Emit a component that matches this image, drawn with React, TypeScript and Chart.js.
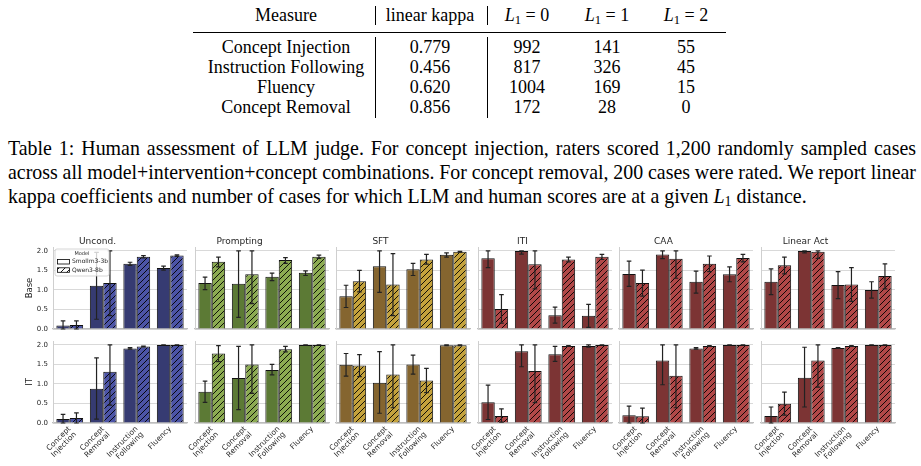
import React, { useEffect, useLayoutEffect, useRef } from "react";
import { Chart, registerables } from "chart.js";

Chart.register(...registerables);

// ---------------- data ----------------
const categories = [["Concept", "Injection"], ["Concept", "Removal"], ["Instruction", "Following"], ["Fluency"]];
const panelTitles = ["Uncond.", "Prompting", "SFT", "ITI", "CAA", "Linear Act"];
const rowLabels = ["Base", "IT"];
const modelNames = ["Smollm3-3b", "Qwen3-8b"];
const legendTitle = "Model";
const yTickValues = [0, 0.5, 1, 1.5, 2];

// Uncond.
const uncondBaseSmol = [0.09, 1.11, 1.67, 1.56];
const uncondBaseSmolErr = [[0, 0.21], [0.25, 1.96], [1.63, 1.71], [1.51, 1.61]];
const uncondBaseQwen = [0.1, 1.18, 1.85, 1.88];
const uncondBaseQwenErr = [[0, 0.21], [0.34, 2.0], [1.82, 1.88], [1.86, 1.9]];
const uncondItSmol = [0.1, 0.88, 1.91, 2.0];
const uncondItSmolErr = [[0, 0.22], [0.1, 1.67], [1.89, 1.93], [2.0, 2.0]];
const uncondItQwen = [0.13, 1.31, 1.96, 2.0];
const uncondItQwenErr = [[0, 0.26], [0.46, 2.0], [1.95, 1.97], [2.0, 2.0]];

// Prompting
const promptBaseSmol = [1.18, 1.16, 1.34, 1.44];
const promptBaseSmolErr = [[1.01, 1.33], [0.3, 2.0], [1.24, 1.43], [1.37, 1.49]];
const promptBaseQwen = [1.72, 1.4, 1.77, 1.85];
const promptBaseQwenErr = [[1.59, 1.84], [0.65, 2.0], [1.68, 1.83], [1.81, 1.89]];
const promptItSmol = [0.8, 1.15, 1.36, 2.0];
const promptItSmolErr = [[0.53, 1.07], [0.34, 1.96], [1.23, 1.5], [2.0, 2.0]];
const promptItQwen = [1.78, 1.5, 1.89, 2.0];
const promptItQwenErr = [[1.57, 1.98], [0.76, 2.0], [1.82, 1.96], [2.0, 2.0]];

// SFT
const sftBaseSmol = [0.84, 1.61, 1.53, 1.9];
const sftBaseSmolErr = [[0.55, 1.12], [0.94, 2.0], [1.37, 1.68], [1.84, 1.95]];
const sftBaseQwen = [1.22, 1.14, 1.78, 1.98];
const sftBaseQwenErr = [[0.95, 1.5], [0.34, 1.93], [1.66, 1.91], [1.97, 1.99]];
const sftItSmol = [1.49, 1.03, 1.5, 1.99];
const sftItSmolErr = [[1.2, 1.78], [0.25, 1.83], [1.25, 1.74], [1.98, 2.0]];
const sftItQwen = [1.47, 1.24, 1.09, 1.99];
const sftItQwenErr = [[1.19, 1.75], [0.39, 2.0], [0.78, 1.4], [1.98, 2.0]];

// ITI
const itiBaseSmol = [1.81, 2.0, 0.35, 0.34];
const itiBaseSmolErr = [[1.57, 2.0], [1.92, 2.0], [0.15, 0.56], [0.04, 0.63]];
const itiBaseQwen = [0.51, 1.66, 1.78, 1.85];
const itiBaseQwenErr = [[0.15, 0.88], [1.03, 2.0], [1.72, 1.84], [1.78, 1.91]];
const itiItSmol = [0.53, 1.84, 1.76, 1.97];
const itiItSmolErr = [[0.09, 0.97], [1.44, 2.0], [1.58, 1.96], [1.94, 2.0]];
const itiItQwen = [0.18, 1.33, 1.97, 2.0];
const itiItQwenErr = [[0.02, 0.36], [0.52, 2.0], [1.96, 1.98], [2.0, 2.0]];

// CAA
const caaBaseSmol = [1.41, 1.91, 1.21, 1.4];
const caaBaseSmolErr = [[1.09, 1.74], [1.8, 2.0], [0.92, 1.48], [1.21, 1.59]];
const caaBaseQwen = [1.18, 1.8, 1.67, 1.82];
const caaBaseQwenErr = [[0.84, 1.51], [1.3, 2.0], [1.47, 1.87], [1.72, 1.91]];
const caaItSmol = [0.2, 1.6, 1.91, 2.0];
const caaItSmolErr = [[0, 0.43], [0.98, 2.0], [1.89, 1.93], [2.0, 2.0]];
const caaItQwen = [0.17, 1.21, 1.97, 2.0];
const caaItQwenErr = [[0, 0.38], [0.39, 2.0], [1.96, 1.98], [2.0, 2.0]];

// Linear Act
const linBaseSmol = [1.21, 2.0, 1.13, 1.0];
const linBaseSmolErr = [[0.88, 1.54], [1.95, 2.0], [0.78, 1.47], [0.79, 1.21]];
const linBaseQwen = [1.63, 1.98, 1.14, 1.36];
const linBaseQwenErr = [[1.41, 1.84], [1.81, 2.0], [0.71, 1.57], [1.03, 1.67]];
const linItSmol = [0.18, 1.16, 1.92, 2.0];
const linItSmolErr = [[0, 0.41], [0.41, 1.94], [1.91, 1.93], [2.0, 2.0]];
const linItQwen = [0.49, 1.6, 1.97, 2.0];
const linItQwenErr = [[0.2, 0.79], [0.92, 2.0], [1.96, 1.98], [2.0, 2.0]];

// Table
const tableHeaders = ["Measure", "linear kappa"];
const tableL1Values = [0, 1, 2];
const tableMeasures = ["Concept Injection", "Instruction Following", "Fluency", "Concept Removal"];
const tableKappa = ["0.779", "0.456", "0.620", "0.856"];
const tableL0 = ["992", "817", "1004", "172"];
const tableL1 = ["141", "326", "169", "28"];
const tableL2 = ["55", "45", "15", "0"];

const captionLine1 = "Table 1: Human assessment of LLM judge. For concept injection, raters scored 1,200 randomly sampled cases";
const captionLine2 = "across all model+intervention+concept combinations. For concept removal, 200 cases were rated. We report linear";
const captionLine3a = "kappa coefficients and number of cases for which LLM and human scores are at a given ";
const captionLine3b = " distance.";

const SERIES = [
  [
    [uncondBaseSmol, uncondBaseSmolErr, uncondBaseQwen, uncondBaseQwenErr],
    [promptBaseSmol, promptBaseSmolErr, promptBaseQwen, promptBaseQwenErr],
    [sftBaseSmol, sftBaseSmolErr, sftBaseQwen, sftBaseQwenErr],
    [itiBaseSmol, itiBaseSmolErr, itiBaseQwen, itiBaseQwenErr],
    [caaBaseSmol, caaBaseSmolErr, caaBaseQwen, caaBaseQwenErr],
    [linBaseSmol, linBaseSmolErr, linBaseQwen, linBaseQwenErr],
  ],
  [
    [uncondItSmol, uncondItSmolErr, uncondItQwen, uncondItQwenErr],
    [promptItSmol, promptItSmolErr, promptItQwen, promptItQwenErr],
    [sftItSmol, sftItSmolErr, sftItQwen, sftItQwenErr],
    [itiItSmol, itiItSmolErr, itiItQwen, itiItQwenErr],
    [caaItSmol, caaItSmolErr, caaItQwen, caaItQwenErr],
    [linItSmol, linItSmolErr, linItQwen, linItQwenErr],
  ],
];

// ---------------- styles ----------------
const FONT = "'DejaVu Sans', sans-serif";
const SERIF = "'Liberation Serif', 'Times New Roman', serif";
const TEXT = "#262626";
const smolColors = ["#363b72", "#5c7a35", "#85652f", "#7c3434", "#7c3434", "#7c3434"];
const qwenColors = ["#4c54a6", "#8cab52", "#c4a23c", "#b14848", "#b14848", "#b14848"];

const PLOT_LEFT = [53, 195, 336, 478, 619, 761];
const PLOT_W = 134;
const AXIS_W = 45;
const RIGHT_PAD = 10;
const TOP_CANVAS = 229;
const TOP_H = 108;
const BOT_CANVAS = 337;
const BOT_H = 129;

function makeHatch(ctx: CanvasRenderingContext2D, bg: string) {
  const s = 6;
  const c = document.createElement("canvas");
  c.width = s;
  c.height = s;
  const g = c.getContext("2d")!;
  g.fillStyle = bg;
  g.fillRect(0, 0, s, s);
  g.strokeStyle = "#000";
  g.lineWidth = 0.9;
  g.beginPath();
  g.moveTo(0, s);
  g.lineTo(s, 0);
  g.moveTo(-s / 2, s / 2);
  g.lineTo(s / 2, -s / 2);
  g.moveTo(s / 2, s * 1.5);
  g.lineTo(s * 1.5, s / 2);
  g.stroke();
  return ctx.createPattern(c, "repeat")!;
}

const errorBarPlugin = {
  id: "errorBars",
  afterDatasetsDraw(chart: any) {
    const ctx = chart.ctx;
    const ys = chart.scales.y;
    ctx.save();
    ctx.strokeStyle = "#222";
    ctx.lineWidth = 1.2;
    chart.data.datasets.forEach((ds: any, i: number) => {
      const meta = chart.getDatasetMeta(i);
      (ds.errorBars || []).forEach((e: number[], j: number) => {
        const bar = meta.data[j];
        if (!bar) return;
        const x = bar.x;
        const yLo = ys.getPixelForValue(e[0]);
        const yHi = ys.getPixelForValue(e[1]);
        ctx.beginPath();
        ctx.moveTo(x, yLo);
        ctx.lineTo(x, yHi);
        ctx.moveTo(x - 2.3, yLo);
        ctx.lineTo(x + 2.3, yLo);
        ctx.moveTo(x - 2.3, yHi);
        ctx.lineTo(x + 2.3, yHi);
        ctx.stroke();
      });
    });
    ctx.restore();
  },
};

const modelLegendPlugin = {
  id: "modelLegend",
  afterDraw(chart: any, _args: any, opts: any) {
    if (!opts || !opts.show) return;
    const ctx = chart.ctx as CanvasRenderingContext2D;
    const a = chart.chartArea;
    const x0 = a.left + 2;
    const y0 = a.top + 2;
    const w = 54;
    const h = 27;
    ctx.save();
    ctx.fillStyle = "rgba(255,255,255,0.8)";
    ctx.strokeStyle = "#cccccc";
    ctx.lineWidth = 0.8;
    ctx.beginPath();
    if ((ctx as any).roundRect) (ctx as any).roundRect(x0, y0, w, h, 2);
    else ctx.rect(x0, y0, w, h);
    ctx.fill();
    ctx.stroke();
    ctx.fillStyle = TEXT;
    ctx.textBaseline = "middle";
    ctx.textAlign = "center";
    ctx.font = `5px ${FONT}`;
    ctx.fillText(opts.title, x0 + w / 2, y0 + 4.5);
    ctx.textAlign = "left";
    ctx.font = `6px ${FONT}`;
    const hatch = makeHatch(ctx, "#ffffff");
    (opts.labels as string[]).forEach((lab, k) => {
      const py = y0 + 10.5 + k * 8.3;
      ctx.fillStyle = k === 0 ? "#ffffff" : hatch;
      ctx.fillRect(x0 + 2.5, py, 12, 4.5);
      ctx.strokeStyle = "#000";
      ctx.lineWidth = 0.8;
      ctx.strokeRect(x0 + 2.5, py, 12, 4.5);
      ctx.fillStyle = TEXT;
      ctx.fillText(lab, x0 + 17, py + 2.4);
    });
    ctx.restore();
  },
};

function Panel({ row, col }: { row: number; col: number }) {
  const ref = useRef<HTMLCanvasElement>(null);
  const isBottom = row === 1;
  const isLeft = col === 0;
  const left = PLOT_LEFT[col] - AXIS_W;
  const width = AXIS_W + PLOT_W + RIGHT_PAD;
  const top = isBottom ? BOT_CANVAS : TOP_CANVAS;
  const height = isBottom ? BOT_H : TOP_H;

  useEffect(() => {
    const canvas = ref.current!;
    const ctx = canvas.getContext("2d")!;
    const [smol, smolErr, qwen, qwenErr] = SERIES[row][col] as any[];
    const chart = new Chart(canvas, {
      type: "bar",
      data: {
        labels: categories as any,
        datasets: [
          {
            label: modelNames[0],
            data: smol,
            errorBars: smolErr,
            backgroundColor: smolColors[col],
            borderColor: "#111",
            borderWidth: 1,
            categoryPercentage: 0.8,
            barPercentage: 1,
          } as any,
          {
            label: modelNames[1],
            data: qwen,
            errorBars: qwenErr,
            backgroundColor: makeHatch(ctx, qwenColors[col]),
            borderColor: "#111",
            borderWidth: 1,
            categoryPercentage: 0.8,
            barPercentage: 1,
          } as any,
        ],
      },
      options: {
        responsive: false,
        animation: false,
        devicePixelRatio: 1,
        events: [],
        layout: { padding: { top: isBottom ? 4 : 0, right: RIGHT_PAD, bottom: 0, left: 0 } },
        plugins: {
          legend: { display: false },
          tooltip: { enabled: false },
          title: {
            display: !isBottom,
            text: panelTitles[col],
            color: TEXT,
            font: { family: FONT, size: 9, weight: "normal", lineHeight: 1.2 },
            padding: { top: 7, bottom: 0.2 },
          },
          modelLegend: { show: row === 0 && col === 0, title: legendTitle, labels: modelNames },
        } as any,
        scales: {
          x: {
            grid: { display: false, drawTicks: false },
            border: { display: true, color: "#bdbdbd", width: 1.2 },
            ticks: {
              display: isBottom,
              autoSkip: false,
              maxRotation: 45,
              minRotation: 45,
              color: TEXT,
              font: { family: FONT, size: 7.5, lineHeight: 1.05 },
              padding: 2,
            },
            afterFit: (s: any) => {
              s.height = isBottom ? 43 : 8;
              s.paddingLeft = 0;
              s.paddingRight = 0;
            },
          },
          y: {
            min: 0,
            max: 2.1,
            afterBuildTicks: (s: any) => {
              s.ticks = yTickValues.map((v) => ({ value: v }));
            },
            grid: { color: "#d9d9d9", lineWidth: 1, drawTicks: false },
            border: { display: true, color: "#cfcfcf", width: 1 },
            ticks: {
              display: isLeft,
              color: TEXT,
              font: { family: FONT, size: 7 },
              padding: 5,
              callback: (v: any) => Number(v).toFixed(1),
            },
            title: {
              display: isLeft,
              text: rowLabels[row],
              color: TEXT,
              font: { family: FONT, size: 8.5 },
              padding: { top: 16.5, bottom: 0 },
            },
            afterFit: (s: any) => {
              s.width = AXIS_W;
              s.paddingTop = 0;
              s.paddingBottom = 0;
            },
          },
        } as any,
      },
      plugins: [errorBarPlugin, modelLegendPlugin],
    } as any);
    return () => chart.destroy();
  }, []);

  return (
    <canvas
      ref={ref}
      width={width}
      height={height}
      style={{ position: "absolute", left, top, width, height }}
    />
  );
}

function JustifiedLine({ text, top }: { text: string; top: number }) {
  const ref = useRef<HTMLSpanElement>(null);
  useLayoutEffect(() => {
    const el = ref.current!;
    el.style.wordSpacing = "0px";
    const w = el.getBoundingClientRect().width;
    const n = (text.match(/ /g) || []).length;
    el.style.wordSpacing = `${(908 - w) / n}px`;
  }, []);
  return (
    <div style={{ position: "absolute", left: 8, top, whiteSpace: "nowrap", lineHeight: "24px" }}>
      <span ref={ref}>{text}</span>
    </div>
  );
}

const L1 = () => (
  <span>
    <i>L</i>
    <sub style={{ fontSize: "0.7em", verticalAlign: "-0.25em", lineHeight: 0 }}>1</sub>
  </span>
);

const COL_X = [286, 430, 527, 607, 686];
const ROW_Y = [37, 57, 77, 97];

function Cell({ x, y, children }: { x: number; y: number; children: any }) {
  return (
    <div
      style={{
        position: "absolute",
        left: x,
        top: y,
        transform: "translateX(-50%)",
        whiteSpace: "nowrap",
        lineHeight: "20px",
      }}
    >
      {children}
    </div>
  );
}

export default function App() {
  const rowsData = [tableKappa, tableL0, tableL1, tableL2];
  return (
    <div
      style={{
        position: "absolute",
        left: 0,
        top: 0,
        width: 921,
        height: 466,
        background: "#fff",
        overflow: "hidden",
        fontFamily: SERIF,
        color: "#000",
      }}
    >
      {/* table */}
      <div style={{ position: "absolute", left: 0, top: 0, width: 921, height: 125, fontSize: 18 }}>
        <Cell x={COL_X[0]} y={5}>{tableHeaders[0]}</Cell>
        <Cell x={COL_X[1]} y={5}>{tableHeaders[1]}</Cell>
        {tableL1Values.map((v, k) => (
          <Cell key={k} x={COL_X[2 + k]} y={5}>
            <L1 /> = {v}
          </Cell>
        ))}
        <div style={{ position: "absolute", left: 193, top: 32, width: 533, height: 1.2, background: "#000" }} />
        {[375, 487].map((x) => (
          <React.Fragment key={x}>
            <div style={{ position: "absolute", left: x, top: 6, width: 0.8, height: 19, background: "#000" }} />
            <div style={{ position: "absolute", left: x, top: 37, width: 0.8, height: 81, background: "#000" }} />
          </React.Fragment>
        ))}
        {tableMeasures.map((m, r) => (
          <React.Fragment key={m}>
            <Cell x={COL_X[0]} y={ROW_Y[r]}>{m}</Cell>
            {rowsData.map((arr, c) => (
              <Cell key={c} x={COL_X[1 + c]} y={ROW_Y[r]}>{arr[r]}</Cell>
            ))}
          </React.Fragment>
        ))}
      </div>

      {/* caption */}
      <div style={{ position: "absolute", left: 0, top: 0, width: 921, fontSize: 19.9 }}>
        <JustifiedLine text={captionLine1} top={136} />
        <JustifiedLine text={captionLine2} top={160} />
        <div style={{ position: "absolute", left: 8, top: 184, whiteSpace: "nowrap", lineHeight: "24px" }}>
          {captionLine3a}
          <L1 />
          {captionLine3b}
        </div>
      </div>

      {/* charts */}
      {[0, 1].map((r) =>
        panelTitles.map((_, c) => <Panel key={`${r}-${c}`} row={r} col={c} />)
      )}
    </div>
  );
}
